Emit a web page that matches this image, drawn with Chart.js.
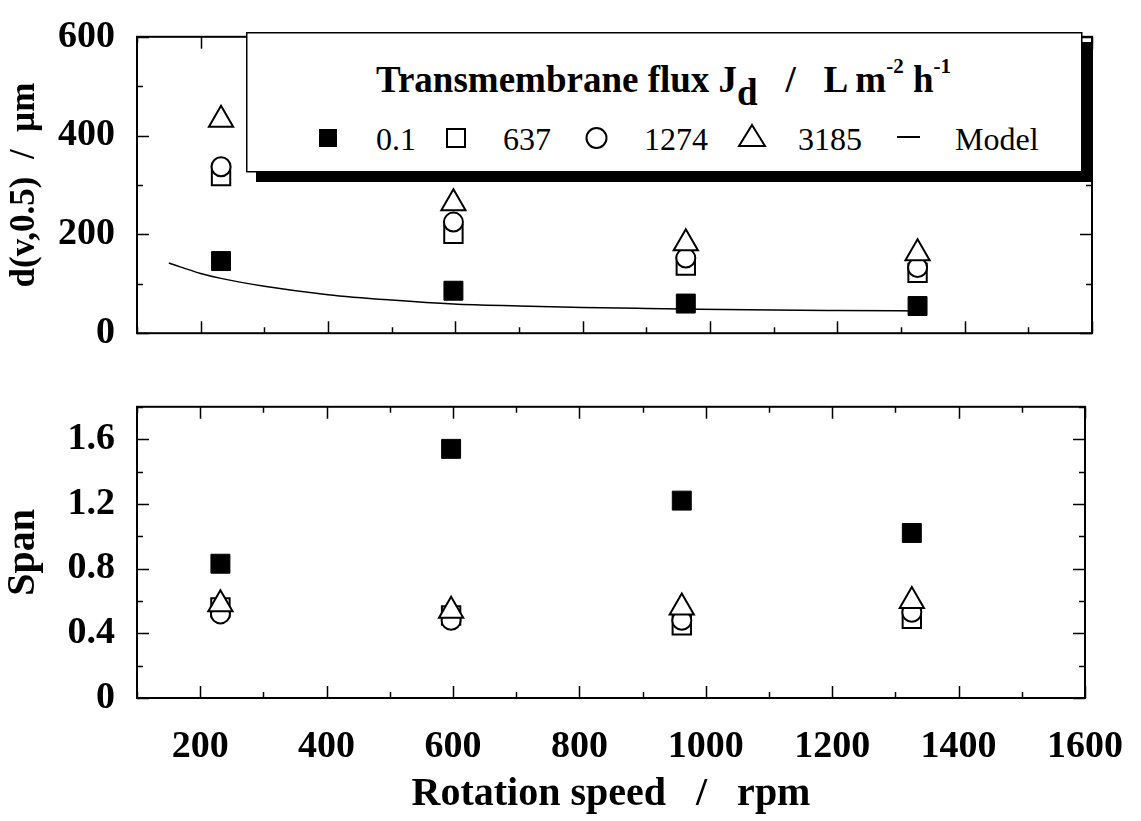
<!DOCTYPE html>
<html>
<head>
<meta charset="utf-8">
<title>d(v,0.5) and Span versus rotation speed</title>
<script src="https://cdn.jsdelivr.net/npm/chart.js@4.4.0/dist/chart.umd.min.js"></script>
<style>
  body { margin: 0; background: #fff; }
  #wrap { position: relative; width: 1141px; height: 821px; overflow: hidden; }
  #topBox { position: absolute; left: 0; top: 0; width: 1141px; height: 370px; }
  #botBox { position: absolute; left: 0; top: 370px; width: 1141px; height: 451px; }
  #legend { position: absolute; left: 0; top: 0; font-family: 'Liberation Serif', 'Times New Roman', serif; }
</style>
</head>
<body>
<div id="wrap">
  <div id="topBox"><canvas id="d50Chart" width="1141" height="370"></canvas></div>
  <div id="botBox"><canvas id="spanChart" width="1141" height="451"></canvas></div>

  <!-- legend of the upper panel, with the shadowed box -->
  <svg id="legend" width="1141" height="200">
    <rect x="256" y="42" width="836" height="140" fill="#000"/>
    <rect x="246.75" y="32.75" width="835" height="139" fill="#fff" stroke="#000" stroke-width="1.5"/>
    <text x="376" y="92" font-size="37" font-weight="bold" style="white-space:pre">Transmembrane flux J<tspan dy="13">d</tspan><tspan dy="-13">   /   L m</tspan><tspan font-size="21" dy="-19">-2</tspan><tspan font-size="37" dy="19"> h</tspan><tspan font-size="21" dy="-19">-1</tspan></text>

    <rect x="319" y="129" width="18" height="18" fill="#000"/>
    <text x="376" y="150" font-size="32">0.1</text>
    <rect x="447" y="129" width="18" height="18" fill="#fff" stroke="#000" stroke-width="2"/>
    <text x="503" y="150" font-size="32">637</text>
    <circle cx="596.5" cy="138" r="10" fill="#fff" stroke="#000" stroke-width="2"/>
    <text x="644" y="150" font-size="32">1274</text>
    <polygon points="752,125 765,146 739,146" fill="#fff" stroke="#000" stroke-width="2"/>
    <text x="798" y="150" font-size="32">3185</text>
    <line x1="897" y1="137" x2="920" y2="137" stroke="#000" stroke-width="2"/>
    <text x="955" y="150" font-size="32">Model</text>
  </svg>
</div>

<script>
// ---- data ----
const rpm = [232, 597, 962, 1326];

// d(v,0.5) in micrometres, one array per transmembrane flux
const d50Flux01 = [146, 86, 60, 55];
const d50Flux637 = [318, 201, 137, 122];
const d50Flux1274 = [337, 225, 152, 133];
const d50Flux3185 = [432, 263, 182, 162];

// model curve
const modelRpm = [150, 200, 232, 300, 400, 500, 597, 700, 800, 900, 962, 1100, 1200, 1326];
const modelD50 = [142, 121, 111, 95, 78, 67, 59, 55, 52, 50, 49, 47, 46, 45];

// span
const spanFlux01 = [0.83, 1.54, 1.22, 1.02];
const spanFlux637 = [0.56, 0.51, 0.45, 0.49];
const spanFlux1274 = [0.52, 0.48, 0.48, 0.53];
const spanFlux3185 = [0.58, 0.54, 0.56, 0.60];

// ticks
const xTicks = [200, 400, 600, 800, 1000, 1200, 1400, 1600];
const xMinorTicks = [100, 300, 500, 700, 900, 1100, 1300, 1500];
const d50Ticks = [0, 200, 400, 600];
const d50MinorTicks = [100, 300, 500];
const spanTicks = [0, 0.4, 0.8, 1.2, 1.6];
const spanMinorTicks = [0.2, 0.6, 1.0, 1.4, 1.8];

const FONT = "'Liberation Serif', 'Times New Roman', serif";
Chart.defaults.font.family = FONT;
Chart.defaults.color = '#000';

function pts(xs, ys) {
    return xs.map((x, i) => ({ x: x, y: ys[i] }));
}

// frame around the plot area with inward ticks on all four sides
const frameTicks = {
    id: 'frameTicks',
    afterDraw(chart, args, opts) {
        const ctx = chart.ctx;
        const a = chart.chartArea;
        const x = chart.scales.x, y = chart.scales.y;
        ctx.save();
        ctx.strokeStyle = '#000';
        ctx.lineWidth = 1.5;
        ctx.beginPath();
        const xt = (vals, len) => vals.forEach(v => {
            const px = Math.round(x.getPixelForValue(v)) + 0.5;
            ctx.moveTo(px, a.bottom); ctx.lineTo(px, a.bottom - len);
            ctx.moveTo(px, a.top); ctx.lineTo(px, a.top + len);
        });
        const yt = (vals, len) => vals.forEach(v => {
            const py = Math.round(y.getPixelForValue(v)) + 0.5;
            ctx.moveTo(a.left, py); ctx.lineTo(a.left + len, py);
            ctx.moveTo(a.right, py); ctx.lineTo(a.right - len, py);
        });
        xt(opts.xMajor, 12);
        xt(opts.xMinor, 6);
        yt(opts.yMajor, 12);
        yt(opts.yMinor, 6);
        ctx.stroke();
        ctx.lineWidth = 2;
        ctx.strokeRect(a.left, a.top, a.right - a.left, a.bottom - a.top);
        ctx.restore();
    }
};

function markerSets(filled, open, circ, tri) {
    return [
        { label: '3185', data: pts(rpm, tri), pointStyle: 'triangle', pointRadius: 14,
          backgroundColor: '#fff', borderColor: '#000', borderWidth: 2, order: 0 },
        { label: '1274', data: pts(rpm, circ), pointStyle: 'circle', pointRadius: 9.5,
          backgroundColor: '#fff', borderColor: '#000', borderWidth: 2, order: 1 },
        { label: '637', data: pts(rpm, open), pointStyle: 'rect', pointRadius: 13,
          backgroundColor: '#fff', borderColor: '#000', borderWidth: 2, order: 2 },
        { label: '0.1', data: pts(rpm, filled), pointStyle: 'rect', pointRadius: 13.4,
          backgroundColor: '#000', borderColor: '#000', borderWidth: 1, order: 3 }
    ];
}

const tickFont = { family: FONT, size: 38, weight: 'bold' };
const titleFont = { family: FONT, size: 40, weight: 'bold' };

// Upper panel: d(v,0.5)
new Chart(document.getElementById('d50Chart'), {
    type: 'scatter',
    data: {
        datasets: markerSets(d50Flux01, d50Flux637, d50Flux1274, d50Flux3185).concat([{
            label: 'Model',
            data: pts(modelRpm, modelD50),
            showLine: true,
            cubicInterpolationMode: 'monotone',
            borderColor: '#000',
            borderWidth: 1.5,
            pointRadius: 0,
            order: 4
        }])
    },
    options: {
        responsive: false,
        animation: false,
        events: [],
        layout: { padding: { left: 0, top: 28, right: 49, bottom: 33 } },
        scales: {
            x: {
                type: 'linear', min: 100, max: 1600, display: false
            },
            y: {
                min: 0, max: 600,
                afterBuildTicks: s => { s.ticks = d50Ticks.map(v => ({ value: v })); },
                afterFit: s => { s.width = 137; },
                grid: { display: false },
                border: { display: false },
                ticks: { font: tickFont, padding: 14, callback: v => String(v) },
                title: { display: true, text: 'd(v,0.5)  /  µm', font: { family: FONT, size: 35, weight: 'bold' },
                         padding: { top: 4, bottom: 0 } }
            }
        },
        plugins: {
            legend: { display: false },
            tooltip: { enabled: false },
            frameTicks: { xMajor: xTicks, xMinor: xMinorTicks, yMajor: d50Ticks, yMinor: d50MinorTicks }
        }
    },
    plugins: [frameTicks]
});

// Lower panel: span
new Chart(document.getElementById('spanChart'), {
    type: 'scatter',
    data: {
        datasets: markerSets(spanFlux01, spanFlux637, spanFlux1274, spanFlux3185)
    },
    options: {
        responsive: false,
        animation: false,
        events: [],
        layout: { padding: { left: 0, top: 19, right: 49, bottom: 0 } },
        scales: {
            x: {
                type: 'linear', min: 100, max: 1600,
                afterBuildTicks: s => { s.ticks = xTicks.map(v => ({ value: v })); },
                afterFit: s => { s.height = 123; },
                grid: { display: false },
                border: { display: false },
                ticks: { font: tickFont, padding: 18, maxRotation: 0, callback: v => String(v) },
                title: { display: true, text: 'Rotation speed   /   rpm', font: titleFont, padding: { top: 0, bottom: 2 } }
            },
            y: {
                min: 0, max: 1.8,
                afterBuildTicks: s => { s.ticks = spanTicks.map(v => ({ value: v })); },
                afterFit: s => { s.width = 137; },
                grid: { display: false },
                border: { display: false },
                ticks: { font: tickFont, padding: 14, callback: v => v === 0 ? '0' : v.toFixed(1) },
                title: { display: true, text: 'Span', font: titleFont, padding: { top: 0, bottom: 0 } }
            }
        },
        plugins: {
            legend: { display: false },
            tooltip: { enabled: false },
            frameTicks: { xMajor: xTicks, xMinor: xMinorTicks, yMajor: spanTicks, yMinor: spanMinorTicks }
        }
    },
    plugins: [frameTicks]
});
</script>
</body>
</html>
